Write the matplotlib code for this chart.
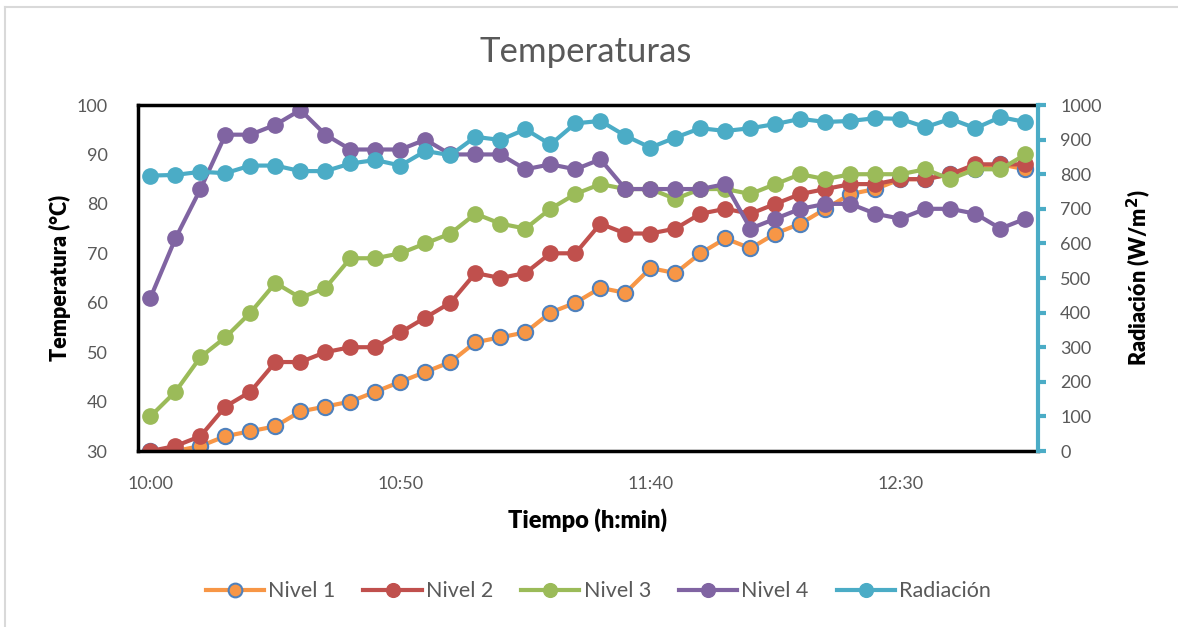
import matplotlib.pyplot as plt
import matplotlib.lines as mlines

# Datos (cada 5 min, 10:00 - 12:55)
tiempo = ["10:00", "10:05", "10:10", "10:15", "10:20", "10:25", "10:30", "10:35", "10:40",
          "10:45", "10:50", "10:55", "11:00", "11:05", "11:10", "11:15", "11:20", "11:25",
          "11:30", "11:35", "11:40", "11:45", "11:50", "11:55", "12:00", "12:05", "12:10",
          "12:15", "12:20", "12:25", "12:30", "12:35", "12:40", "12:45", "12:50", "12:55"]

nivel1 = [30, 30, 31, 33, 34, 35, 38, 39, 40, 42, 44, 46, 48, 52, 53, 54, 58, 60,
          63, 62, 67, 66, 70, 73, 71, 74, 76, 79, 82, 83, 85, 85, 86, 87, 88, 87]
nivel2 = [30, 31, 33, 39, 42, 48, 48, 50, 51, 51, 54, 57, 60, 66, 65, 66, 70, 70,
          76, 74, 74, 75, 78, 79, 78, 80, 82, 83, 84, 84, 85, 85, 86, 88, 88, 88]
nivel3 = [37, 42, 49, 53, 58, 64, 61, 63, 69, 69, 70, 72, 74, 78, 76, 75, 79, 82,
          84, 83, 83, 81, 83, 83, 82, 84, 86, 85, 86, 86, 86, 87, 85, 87, 87, 90]
nivel4 = [61, 73, 83, 94, 94, 96, 99, 94, 91, 91, 91, 93, 90, 90, 90, 87, 88, 87,
          89, 83, 83, 83, 83, 84, 75, 77, 79, 80, 80, 78, 77, 79, 79, 78, 75, 77]
radiacion = [796, 798, 807, 803, 825, 825, 809, 809, 831, 841, 825, 867, 855, 908, 899, 930,
             886, 947, 954, 911, 877, 906, 933, 925, 933, 945, 960, 951, 954, 962, 960, 936,
             960, 933, 965, 951]

tick_labels = ["10:00", "10:50", "11:40", "12:30"]

colores = {"Nivel 1": "#F79646", "Nivel 2": "#C0504D", "Nivel 3": "#9BBB59",
           "Nivel 4": "#8064A2", "Radiación": "#4BACC6"}
gris = "#595959"

plt.rcParams['font.family'] = ['Lato', 'DejaVu Sans']

fig = plt.figure(figsize=(11.78, 6.27), dpi=100)
# borde del area del grafico (solo arriba e izquierda visibles)
fig.lines.append(mlines.Line2D([0.0045, 1.0], [0.989, 0.989], transform=fig.transFigure,
                               color="#D9D9D9", lw=1.5))
fig.lines.append(mlines.Line2D([0.0045, 0.0045], [0.0, 0.989], transform=fig.transFigure,
                               color="#D9D9D9", lw=1.5))

ax = fig.add_axes([0.1171, 0.2807, 0.7640, 0.5518])
ax2 = ax.twinx()

x = list(range(len(tiempo)))
lw, ms = 3, 11
ax.plot(x, nivel1, "-o", color=colores["Nivel 1"], lw=lw, ms=ms,
        mfc=colores["Nivel 1"], mec="#4F81BD", mew=1.5, label="Nivel 1")
for nombre, serie in [("Nivel 2", nivel2), ("Nivel 3", nivel3), ("Nivel 4", nivel4)]:
    ax.plot(x, serie, "-o", color=colores[nombre], lw=lw, ms=ms, mec=colores[nombre], label=nombre)
ax2.plot(x, radiacion, "-o", color=colores["Radiación"], lw=lw, ms=ms,
         mec=colores["Radiación"], label="Radiación")

ax.set_xlim(-0.5, len(tiempo) - 0.5)
ax.set_ylim(30, 100)
ax2.set_ylim(0, 1000)
ax.set_yticks(range(30, 101, 10))
ax2.set_yticks(range(0, 1001, 100))
ax.set_xticks([tiempo.index(t) for t in tick_labels])
ax.set_xticklabels(tick_labels)

ax.tick_params(axis="y", length=0, pad=22, labelsize=13, labelcolor=gris)
ax.tick_params(axis="x", length=0, pad=18, labelsize=13, labelcolor=gris)
ax2.tick_params(axis="y", length=6, width=3, color=colores["Radiación"], pad=10,
                labelsize=13, labelcolor=gris)

for s in ["left", "top", "bottom"]:
    ax.spines[s].set_linewidth(2.5)
    ax.spines[s].set_color("black")
for s in ["left", "top", "bottom"]:
    ax2.spines[s].set_visible(False)
ax.spines["right"].set_visible(False)
ax2.spines["right"].set_color(colores["Radiación"])
ax2.spines["right"].set_linewidth(3)

ax.set_ylabel("Temperatura (°C)", fontsize=15.5, fontweight="heavy", labelpad=4)
ax2.set_ylabel("Radiación (W/m$^\\mathbf{2}$)", fontsize=15.5, fontweight="heavy", labelpad=16)
ax.set_xlabel("Tiempo (h:min)", fontsize=17, fontweight="heavy", labelpad=12)
fig.text(0.497, 0.917, "Temperaturas", ha="center", va="center", fontsize=25, color=gris)

h1, l1 = ax.get_legend_handles_labels()
h2, l2 = ax2.get_legend_handles_labels()
leg = fig.legend(h1 + h2, l1 + l2, loc="center", bbox_to_anchor=(0.508, 0.057), ncol=5,
                 frameon=False, fontsize=15.5, handlelength=2.7, columnspacing=1.3,
                 handletextpad=0.2, markerscale=0.9)
for t in leg.get_texts():
    t.set_color(gris)

fig.savefig("out.png", dpi=100)
